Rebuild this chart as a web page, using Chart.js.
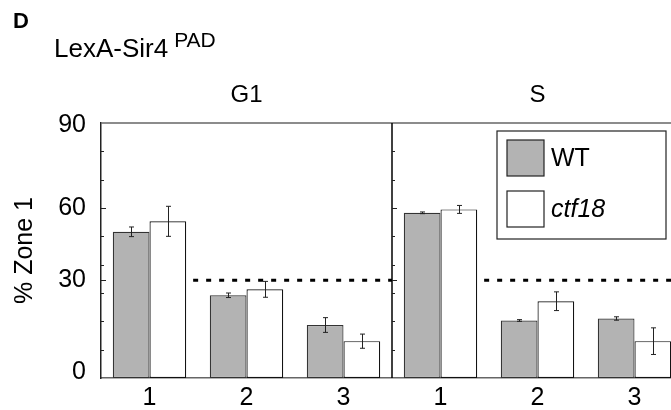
<!DOCTYPE html>
<html>
<head>
<meta charset="utf-8">
<script src="https://cdn.jsdelivr.net/npm/chart.js@4.4.1/dist/chart.umd.min.js"></script>
<style>
  html, body { margin: 0; padding: 0; background: #fff; overflow: hidden; }
  #wrap { position: relative; width: 683px; height: 410px; }
</style>
</head>
<body>
<div id="wrap"><canvas id="chart"></canvas></div>
<script>
// values (% Zone 1)
const categories = ['1', '2', '3', '1', '2', '3'];
const phases = ['G1', 'S'];
const seriesNames = ['WT', 'ctf18'];
const wtValues = [51.6, 29.2, 18.7, 58.3, 20.3, 21.0];
const wtErrors = [1.7, 0.8, 2.6, 0.3, 0.3, 0.6];
const ctf18Values = [55.3, 31.3, 13.0, 59.5, 27.1, 13.0];
const ctf18Errors = [5.3, 2.8, 2.5, 1.4, 3.3, 4.7];
// the figure places its labels a little off the linear scale
const yTickValues = [2.2, 34.5, 60, 89.3];
const yTickLabels = ['0', '30', '60', '90'];
const yMajorTicks = [34.5, 60];
const yMinorTicks = [10, 20, 30, 40, 50, 70, 80];
const refLine = 34.5;

const FONT = "'Liberation Sans', Arial, sans-serif";
const WT_FILL = '#b3b3b3';

const decor = {
  id: 'decor',
  afterDatasetsDraw(chart) {
    const {ctx, chartArea: a, scales: {x, y}} = chart;
    ctx.save();

    // error bars
    chart.data.datasets.forEach((ds, i) => {
      chart.getDatasetMeta(i).data.forEach((bar, j) => {
        const v = ds.data[j], e = ds.errors[j];
        const t = y.getPixelForValue(v + e), b = y.getPixelForValue(v - e);
        const cx = Math.round(bar.x) + 0.5;
        ctx.strokeStyle = '#222';
        ctx.lineWidth = 1;
        ctx.beginPath();
        ctx.moveTo(cx, t); ctx.lineTo(cx, b);
        ctx.moveTo(cx - 2.5, t); ctx.lineTo(cx + 2.5, t);
        ctx.moveTo(cx - 2.5, b); ctx.lineTo(cx + 2.5, b);
        ctx.stroke();
      });
    });

    // dotted reference line in each panel
    const ry = y.getPixelForValue(refLine);
    ctx.strokeStyle = '#000';
    ctx.lineWidth = 3;
    ctx.setLineDash([5, 8]);
    phases.forEach((p, k) => {
      ctx.beginPath();
      ctx.moveTo(x.getPixelForValue(k * 3 + 0.45), ry);
      ctx.lineTo(x.getPixelForValue(k * 3 + 2.5), ry);
      ctx.stroke();
    });
    ctx.setLineDash([]);

    // top frame line
    ctx.strokeStyle = '#666';
    ctx.lineWidth = 1.5;
    ctx.beginPath();
    ctx.moveTo(a.left, a.top); ctx.lineTo(a.right, a.top);
    ctx.stroke();

    // panel divider
    const dx = x.getPixelForValue(2.5);
    ctx.strokeStyle = '#000';
    ctx.lineWidth = 1.5;
    ctx.beginPath();
    ctx.moveTo(dx, a.top); ctx.lineTo(dx, a.bottom);
    ctx.stroke();

    // inward ticks on both vertical axes
    ctx.lineWidth = 1;
    ctx.strokeStyle = '#222';
    [a.left, dx].forEach(ax => {
      ctx.beginPath();
      yMinorTicks.forEach(v => {
        const ty = Math.round(y.getPixelForValue(v)) + 0.5;
        ctx.moveTo(ax, ty); ctx.lineTo(ax + 3, ty);
      });
      yMajorTicks.forEach(v => {
        const ty = Math.round(y.getPixelForValue(v)) + 0.5;
        ctx.moveTo(ax, ty); ctx.lineTo(ax + 5, ty);
      });
      ctx.stroke();
    });
    ctx.restore();
  },
  afterDraw(chart) {
    const {ctx, chartArea: a, scales: {x, y}} = chart;
    ctx.save();
    ctx.fillStyle = '#000';

    // y tick labels, right aligned a fixed gap left of the axis
    ctx.font = '25px ' + FONT;
    ctx.textAlign = 'right';
    ctx.textBaseline = 'middle';
    yTickValues.forEach((v, i) => ctx.fillText(yTickLabels[i], a.left - 15, y.getPixelForValue(v)));

    ctx.textBaseline = 'alphabetic';
    // panel letter and title
    ctx.font = 'bold 22px ' + FONT;
    ctx.textAlign = 'left';
    ctx.fillText('D', 13, 28);
    ctx.font = '26px ' + FONT;
    ctx.fillText('LexA-Sir4', 54, 57);
    const w = ctx.measureText('LexA-Sir4').width;
    ctx.font = '21px ' + FONT;
    ctx.fillText('PAD', 54 + w + 6, 47);

    // phase titles
    ctx.font = '24px ' + FONT;
    ctx.textAlign = 'center';
    phases.forEach((p, k) => ctx.fillText(p, x.getPixelForValue(k * 3 + 1), 102));

    // legend box
    ctx.strokeStyle = '#222';
    ctx.lineWidth = 1.2;
    ctx.fillStyle = '#fff';
    ctx.fillRect(497, 131, 169, 108);
    ctx.strokeRect(497, 131, 169, 108);
    const fills = [WT_FILL, '#fff'];
    seriesNames.forEach((n, k) => {
      const sy = 140 + k * 51;
      ctx.fillStyle = fills[k];
      ctx.fillRect(507, sy, 37, 36);
      ctx.strokeRect(507, sy, 37, 36);
      ctx.fillStyle = '#000';
      ctx.textAlign = 'left';
      ctx.textBaseline = 'middle';
      ctx.font = (k === 1 ? 'italic ' : '') + '25px ' + FONT;
      ctx.fillText(n, 551, sy + 19);
    });
    ctx.restore();
  }
};

new Chart(document.getElementById('chart'), {
  type: 'bar',
  data: {
    labels: categories,
    datasets: [
      {label: seriesNames[0], data: wtValues, errors: wtErrors,
       backgroundColor: WT_FILL, borderColor: '#333', borderWidth: 1.2, borderSkipped: false},
      {label: seriesNames[1], data: ctf18Values, errors: ctf18Errors,
       backgroundColor: '#fff', borderColor: '#111', borderWidth: 1.2, borderSkipped: false}
    ]
  },
  options: {
    responsive: true,
    maintainAspectRatio: false,
    animation: false,
    categoryPercentage: 0.757,
    barPercentage: 1,
    layout: {padding: {top: 123, left: 0, right: 0, bottom: 0}},
    plugins: {legend: {display: false}, tooltip: {enabled: false}},
    scales: {
      x: {
        afterFit(s) { s.height = 32; },
        grid: {display: false, drawTicks: false},
        border: {display: true, color: '#666', width: 1.5},
        ticks: {font: {size: 25, family: FONT}, color: '#000', padding: 5, maxRotation: 0, autoSkip: false}
      },
      y: {
        min: 0,
        max: 90,
        afterFit(s) { s.width = 101; },
        grid: {display: false, drawTicks: false},
        border: {display: true, color: '#222', width: 1.5},
        ticks: {display: false},
        title: {display: true, text: '% Zone 1', font: {size: 25, family: FONT}, color: '#000', padding: {top: 10, bottom: 0}}
      }
    }
  },
  plugins: [decor]
});
</script>
</body>
</html>
